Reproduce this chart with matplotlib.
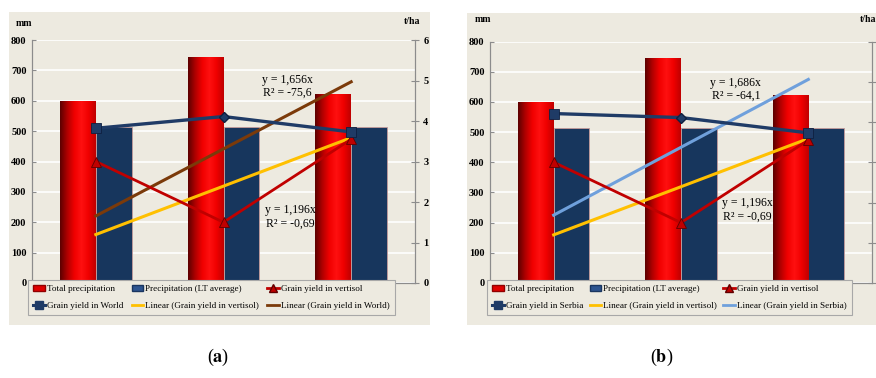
import numpy as np
import matplotlib
matplotlib.use("Agg")
import matplotlib.pyplot as plt
from matplotlib.patches import Rectangle, Patch
from matplotlib.lines import Line2D
from matplotlib.colors import LinearSegmentedColormap

plt.rcParams["mathtext.fontset"] = "stix"

# data
years = ["1", "2", "3"]
total_precip = [597, 743, 622]          # mm
lt_precip = [514, 514, 514]             # mm
yield_vertisol = [3.0, 1.5, 3.55]       # t/ha
yield_world = [3.82, 4.11, 3.73]        # t/ha
yield_serbia = [4.21, 4.11, 3.73]       # t/ha
trend_vertisol = [1.196, 3.588]         # t/ha at first and last year
trend_world = [1.656, 4.968]
trend_serbia = [1.686, 5.058]
eq_vertisol = "y = 1,196x\nR² = -0,69"
eq_world = "y = 1,656x\nR² = -75,6"
eq_serbia = "y = 1,686x\nR² = -64,1"

BG = "#EDEAE0"
RED = "#E00000"
NAVY = "#17365D"
LINE_NAVY = "#1F3B66"
VRED = "#C00000"
YELLOW = "#FFC000"
BROWN = "#7B3A0A"
LBLUE = "#6FA0DC"
SERIF = ["Liberation Serif", "DejaVu Serif"]

red_cmap = LinearSegmentedColormap.from_list(
    "cyl", ["#5E0000", "#B00000", "#F00000", "#FF1010", "#F00000", "#C00000"])

fig = plt.figure(figsize=(8.76, 3.78), dpi=100)
W, H = 876.0, 378.0


def fx(px):
    return px / W


def fy(py):
    return 1 - py / H


def panel(bg_box, ax_box, country, yld, trend, trend_col, eq_c, pos_c, pos_v, leg_box,
          mm_xy, tha_xy, right_labels=True):
    x0, y0, x1, y1 = bg_box
    fig.patches.append(Rectangle((fx(x0), fy(y1)), fx(x1 - x0), (y1 - y0) / H,
                                 transform=fig.transFigure, facecolor=BG, edgecolor="none",
                                 zorder=-5))
    l, t, r, b = ax_box
    ax = fig.add_axes([fx(l), fy(b), fx(r - l), (b - t) / H])
    ax.set_zorder(1)
    ax.set_facecolor(BG)
    x = np.arange(len(years))
    w = 0.28
    bars = ax.bar(x - w / 2, total_precip, w, color=RED, zorder=2)
    ax.bar(x + w / 2, lt_precip, w, color=NAVY, edgecolor="#C49A9A", linewidth=0.6, zorder=2)
    grad = np.linspace(0, 1, 64).reshape(1, -1)
    for bar in bars:
        bx, bw, bh = bar.get_x(), bar.get_width(), bar.get_height()
        ax.imshow(grad, extent=[bx, bx + bw, 0, bh], aspect="auto", cmap=red_cmap, zorder=2.1)
    ax.set_xlim(-0.5, 2.5)
    ax.set_ylim(0, 800)
    ax.set_yticks(range(0, 801, 100))
    ax.set_xticks([])
    ax.yaxis.grid(True, color="white", linewidth=1.2, zorder=1)
    ax.set_axisbelow(True)
    ax.spines["top"].set_visible(False)
    for s in ["left", "bottom", "right"]:
        ax.spines[s].set_color("#8C8C8C")
    ax.tick_params(axis="y", direction="in", length=3, color="#8C8C8C", pad=4)
    for lab in ax.get_yticklabels():
        lab.set_fontfamily(SERIF)
        lab.set_fontsize(7.5)
        lab.set_fontweight("bold")

    ax.text(pos_c[0], pos_c[1], eq_c, ha="center", va="center", fontsize=8.5,
            family=SERIF, linespacing=1.15, zorder=6)
    ax.text(pos_v[0], pos_v[1], eq_vertisol, ha="center", va="center", fontsize=8.5,
            family=SERIF, linespacing=1.15, zorder=6)

    ax2 = ax.twinx()
    ax2.set_zorder(2)
    ax2.patch.set_visible(False)
    ax2.set_ylim(0, 6)
    ax2.set_yticks(range(0, 7))
    ax2.spines["top"].set_visible(False)
    for s in ["left", "bottom", "right"]:
        ax2.spines[s].set_color("#8C8C8C")
    ax2.tick_params(axis="y", direction="inout", length=6, color="#8C8C8C", pad=3,
                    labelright=right_labels)
    for lab in ax2.get_yticklabels():
        lab.set_fontfamily(SERIF)
        lab.set_fontsize(7.5)
        lab.set_fontweight("bold")

    ax2.plot([x[0], x[-1]], trend, color=trend_col, lw=2.2, zorder=3)
    ax2.plot([x[0], x[-1]], trend_vertisol, color=YELLOW, lw=2.2, zorder=3)
    ax2.plot(x, yield_vertisol, color=VRED, lw=2, zorder=4)
    ax2.plot(x, yield_vertisol, ls="none", marker="^", ms=6.5, mfc=VRED, mec="#600000", mew=0.6, zorder=5)
    ax2.plot(x, yld, color=LINE_NAVY, lw=2.4, zorder=4)
    ax2.plot(x[[0, 2]], np.array(yld)[[0, 2]], ls="none", marker="s", ms=7,
             mfc=LINE_NAVY, mec="#0F2040", mew=0.6, zorder=5)
    ax2.plot(x[1], yld[1], ls="none", marker="D", ms=5, mfc=LINE_NAVY, mec="#0F2040", zorder=5)
    ax2.set_xlim(-0.5, 2.5)

    h = [
        Patch(facecolor=RED, edgecolor="#900000"),
        Patch(facecolor="#2E5590", edgecolor="#1A3660"),
        Line2D([], [], color=VRED, lw=2, marker="^", ms=6, mfc=VRED, mec="#600000"),
        Line2D([], [], color=LINE_NAVY, lw=2.2, marker="s", ms=6, mfc=LINE_NAVY),
        Line2D([], [], color=YELLOW, lw=2),
        Line2D([], [], color=trend_col, lw=2),
    ]
    lbl = ["Total precipitation", "Precipitation (LT average)", "Grain yield in vertisol",
           "Grain yield in " + country, "Linear (Grain yield in vertisol)",
           "Linear (Grain yield in " + country + ")"]
    order = [0, 3, 1, 4, 2, 5]  # legend fills column-wise, reference reads row-wise
    lx0, ly0, lx1, ly1 = leg_box
    leg = fig.legend([h[i] for i in order], [lbl[i] for i in order], ncol=3, loc="lower left",
                     bbox_to_anchor=(fx(lx0), fy(ly1), fx(lx1 - lx0), (ly1 - ly0) / H),
                     mode="expand", prop={"family": SERIF, "size": 6.6},
                     frameon=True, fancybox=False, handlelength=1.3, handletextpad=0.2,
                     borderpad=0.55, labelspacing=0.9, columnspacing=0.4, borderaxespad=0)
    leg.set_zorder(10)
    leg.get_frame().set_facecolor(BG)
    leg.get_frame().set_edgecolor("#A8A8A8")
    leg.get_frame().set_linewidth(0.8)
    leg.get_frame().set_alpha(1)

    fig.text(fx(mm_xy[0]), fy(mm_xy[1]), "mm", ha="center", va="center", fontsize=7,
             family=SERIF, fontweight="bold")
    fig.text(fx(tha_xy[0]), fy(tha_xy[1]), "t/ha", ha="right", va="center", fontsize=7,
             family=SERIF, fontweight="bold")
    return ax


panel((9, 12, 430, 325), (32, 40, 415, 283), "World", yield_world, trend_world, BROWN,
      eq_world, (1.5, 647), (1.52, 218), (28, 281, 395, 315), (24, 23), (420, 22))
panel((467, 13, 876, 325), (490, 41.5, 872, 283), "Serbia", yield_serbia, trend_serbia, LBLUE,
      eq_serbia, (1.43, 642), (1.52, 242), (487, 281, 852, 315), (483, 20), (876, 20),
      right_labels=False)

fig.text(fx(218), fy(357), r"($\mathbf{a}$)", ha="center", va="center", fontsize=13, family=SERIF)
fig.text(fx(662), fy(357), r"($\mathbf{b}$)", ha="center", va="center", fontsize=13, family=SERIF)

fig.savefig("out.png", dpi=100)
